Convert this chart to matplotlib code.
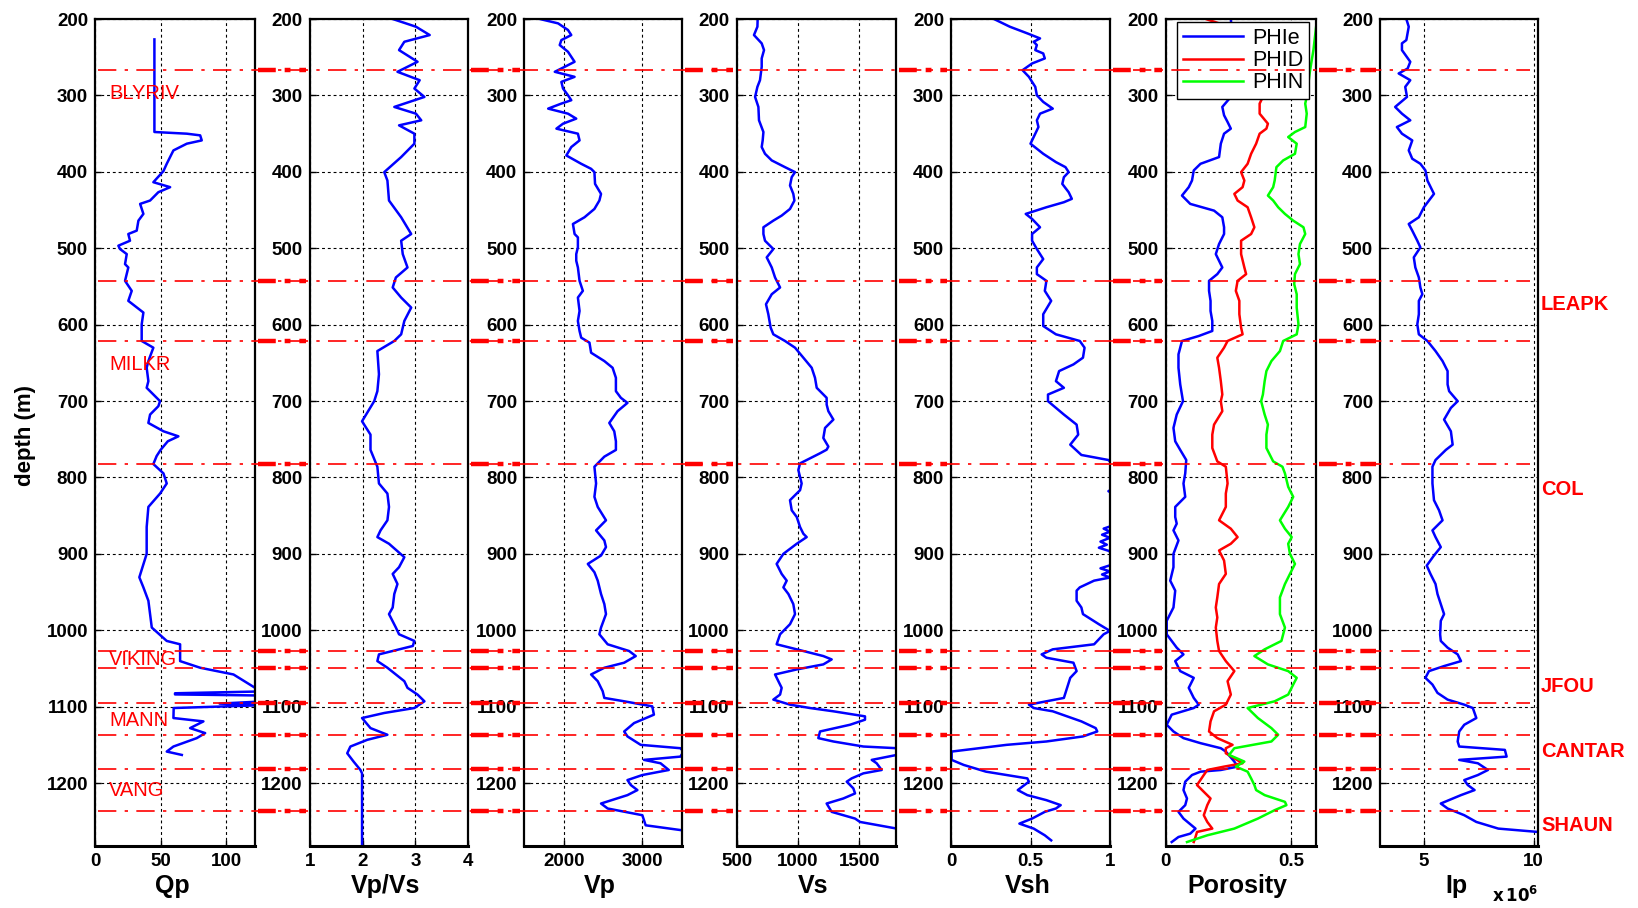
import numpy as np
import matplotlib
matplotlib.use("Agg")
import matplotlib.pyplot as plt
from matplotlib.lines import Line2D
from matplotlib.transforms import blended_transform_factory

# ---------------------------------------------------------------- well data
DEPTH_LIMITS = (200, 1282)
DEPTH_TICKS = list(range(200, 1201, 100))

# (depth m, value) samples for each log
QP = [(226.7, 45.3), (347.9, 45.3), (350.1, 70.0), (352.3, 80.2), (358.9, 81.4), (363.2, 70.0),
      (372.0, 59.8), (376.4, 58.5), (389.5, 54.7), (399.0, 52.2), (413.6, 44.5), (420.1, 57.3),
      (426.7, 48.3), (437.6, 42.0), (442.0, 34.4), (455.1, 36.9), (463.9, 33.1), (477.0, 31.8),
      (481.4, 25.4), (490.2, 26.7), (496.7, 17.8), (501.1, 19.1), (507.7, 24.2), (520.8, 22.9),
      (525.2, 25.4), (542.7, 22.9), (555.8, 28.0), (568.9, 25.4), (584.2, 36.9), (599.6, 35.6),
      (621.4, 35.6), (630.2, 44.5), (647.7, 40.7), (656.5, 39.4), (674.0, 40.7), (682.7, 39.4),
      (700.2, 49.6), (706.8, 48.3), (717.7, 42.0), (728.7, 40.7), (739.6, 52.2), (746.2, 63.6),
      (752.7, 55.5), (764.0, 50.0), (772.0, 47.0), (782.5, 44.5), (794.7, 52.2), (807.9, 54.7),
      (821.1, 49.6), (838.6, 40.7), (864.9, 39.4), (900.0, 39.4), (930.7, 33.8), (943.9, 36.9),
      (961.4, 40.7), (996.5, 43.3), (1014.0, 54.7), (1018.4, 64.9), (1040.4, 64.9), (1049.1, 80.2),
      (1057.9, 105.6), (1075.4, 122.1), (1080.0, 130.0), (1082.5, 61.0), (1084.0, 61.0),
      (1085.5, 130.0), (1093.0, 130.0), (1096.0, 95.0), (1098.0, 130.0), (1101.8, 60.0),
      (1114.9, 59.8), (1119.3, 82.7), (1128.1, 72.5), (1134.6, 84.0), (1141.2, 77.6),
      (1152.2, 59.8), (1158.8, 54.7), (1163.2, 66.2)]

VPVS = [(200, 2.57), (210.1, 3.01), (221, 3.27), (229.8, 2.79), (240.7, 2.69), (256, 3.04),
        (269.1, 2.66), (280.1, 3.08), (291, 2.98), (302, 3.17), (315.1, 2.60), (323.9, 3.01),
        (332.6, 3.11), (339.2, 2.69), (350.1, 2.98), (363.2, 2.98), (380.7, 2.73), (400.4, 2.41),
        (411.4, 2.47), (437.6, 2.50), (459.5, 2.73), (481.4, 2.92), (490.2, 2.73), (507.7, 2.76),
        (525.2, 2.85), (538.3, 2.63), (551.4, 2.57), (564.6, 2.73), (577.7, 2.92), (595.2, 2.79),
        (612.7, 2.73), (621.4, 2.60), (634.6, 2.28), (665, 2.31), (687.1, 2.28), (700.2, 2.22),
        (726.5, 1.99), (744, 2.15), (764, 2.15), (786, 2.28), (807.9, 2.31), (821.1, 2.47),
        (838.6, 2.50), (856.1, 2.47), (869.3, 2.34), (878.1, 2.28), (886.8, 2.50), (904.4, 2.79),
        (917.5, 2.69), (926.3, 2.57), (939.5, 2.66), (952.6, 2.60), (970.2, 2.57), (978.9, 2.50),
        (996.5, 2.63), (1005.3, 2.69), (1014, 2.98), (1020.6, 2.95), (1031.6, 2.31), (1040.4, 2.28),
        (1049.1, 2.47), (1066.7, 2.79), (1075.4, 2.85), (1084.2, 3.04), (1093, 3.17), (1101.8, 2.98),
        (1108.3, 2.41), (1114.9, 1.99), (1128.1, 2.15), (1136.8, 2.47), (1143.4, 2.09),
        (1152.2, 1.77), (1161, 1.71), (1171.9, 1.83), (1182.9, 1.96), (1187.3, 1.99), (1279.4, 1.99)]

VP = [(200, 1697), (205.7, 1929), (214.4, 2055), (221, 2097), (227.6, 1971), (234.1, 1950),
      (242.9, 2055), (256, 2139), (262.6, 2013), (269.1, 1887), (275.7, 2139), (282.3, 1971),
      (291, 1992), (299.8, 2055), (306.3, 2097), (310.7, 1971), (317.3, 1803), (323.9, 2055),
      (330.4, 2160), (337, 1992), (343.5, 1908), (350.1, 2181), (358.9, 2202), (367.6, 2097),
      (378.6, 2034), (389.5, 2223), (396.1, 2349), (400.4, 2391), (415.8, 2399), (428.9, 2475),
      (437.6, 2454), (448.6, 2391), (459.5, 2265), (468.3, 2118), (481.4, 2139), (485.8, 2181),
      (498.9, 2181), (507.7, 2160), (516.4, 2160), (525.2, 2181), (542.7, 2202), (555.8, 2244),
      (564.6, 2181), (582.1, 2202), (595.2, 2181), (608.3, 2202), (617.1, 2223), (623.6, 2328),
      (636.8, 2349), (647.7, 2517), (656.5, 2622), (669.6, 2664), (687.1, 2664), (695.8, 2727),
      (702.4, 2811), (713.3, 2685), (728.7, 2580), (739.6, 2643), (752.7, 2664), (764, 2664),
      (772.8, 2517), (786, 2391), (807.9, 2412), (825.4, 2391), (838.6, 2433), (856.1, 2538),
      (869.3, 2412), (882.5, 2517), (891.2, 2538), (902.2, 2475), (913.2, 2307), (924.1, 2391),
      (935.1, 2433), (952.6, 2475), (965.8, 2517), (978.9, 2538), (996.5, 2475), (1005.3, 2454),
      (1018.4, 2559), (1027.2, 2832), (1033.8, 2916), (1042.5, 2769), (1049.1, 2517),
      (1057.9, 2349), (1066.7, 2433), (1079.8, 2496), (1088.6, 2517), (1093, 2769), (1099.6, 3126),
      (1110.5, 3147), (1121.5, 2895), (1132.5, 2769), (1139, 2811), (1150, 2979), (1154.4, 3483),
      (1158.8, 3525), (1165.4, 3483), (1169.7, 3021), (1174.1, 3231), (1182.9, 3336),
      (1189.5, 3000), (1196.1, 2811), (1202.6, 2853), (1209.2, 2937), (1215.8, 2811),
      (1226.8, 2475), (1233.3, 2559), (1242.1, 3000), (1255.3, 3042), (1261.8, 3504)]

VS = [(200, 671), (210.1, 669), (221, 641), (231.9, 704), (240.7, 723), (251.6, 704), (262.6, 704),
      (280.1, 690), (288.8, 669), (302, 650), (315.1, 677), (332.6, 682), (347.9, 718), (358.9, 712),
      (367.6, 704), (376.4, 731), (385.1, 786), (393.9, 894), (400.4, 976), (407, 949), (417.9, 935),
      (428.9, 962), (437.6, 971), (448.6, 935), (457.3, 867), (463.9, 799), (472.6, 718),
      (481.4, 718), (490.2, 731), (501.1, 799), (512, 745), (525.2, 786), (538.3, 813), (551.4, 854),
      (560.2, 786), (573.3, 739), (586.4, 758), (603.9, 777), (612.7, 799), (621.4, 894),
      (630.2, 976), (643.3, 1044), (656.5, 1112), (669.6, 1139), (682.7, 1153), (695.8, 1234),
      (704.6, 1234), (713.3, 1248), (724.3, 1289), (735.2, 1221), (748.4, 1207), (759.6, 1248),
      (763.7, 1234), (768.4, 1180), (781.6, 1017), (790.4, 1003), (807.9, 1030), (816.7, 1017),
      (829.8, 935), (843, 949), (851.8, 990), (864.9, 1017), (873.7, 1044), (878.1, 1071),
      (886.8, 990), (900, 881), (913.2, 826), (926.3, 867), (935.1, 908), (943.9, 881), (952.6, 922),
      (965.8, 962), (978.9, 976), (992.1, 935), (1005.3, 854), (1018.4, 826), (1025, 990),
      (1033.8, 1207), (1038.2, 1275), (1044.7, 1207), (1051.3, 990), (1057.9, 813), (1066.7, 840),
      (1075.4, 867), (1084.2, 854), (1090.8, 799), (1097.4, 935), (1101.8, 1098), (1106.1, 1289),
      (1112.7, 1547), (1117.1, 1547), (1123.7, 1425), (1132.5, 1180), (1141.2, 1166),
      (1145.6, 1289), (1152.2, 1534), (1154.4, 1806), (1163.2, 1806), (1169.7, 1602),
      (1174.1, 1642), (1182.9, 1683), (1187.3, 1534), (1193.9, 1438), (1198.2, 1398),
      (1207, 1452), (1213.6, 1466), (1220.2, 1370), (1226.8, 1234), (1237.7, 1275),
      (1246.5, 1466), (1250.9, 1506), (1259.6, 1806)]

VSH = [(200, 0.27), (210.1, 0.37), (218.8, 0.48), (225.4, 0.56), (229.8, 0.52), (234.1, 0.54),
       (240.7, 0.53), (245.1, 0.58), (251.6, 0.59), (258.2, 0.51), (267, 0.45), (275.7, 0.49),
       (288.8, 0.53), (299.8, 0.54), (308.5, 0.58), (317.3, 0.64), (323.9, 0.56), (332.6, 0.54),
       (341.4, 0.55), (350.1, 0.53), (363.2, 0.50), (376.4, 0.58), (387.3, 0.66), (393.9, 0.72),
       (400.4, 0.74), (407, 0.71), (415.8, 0.70), (426.7, 0.74), (435.4, 0.76), (439.8, 0.71),
       (446.4, 0.60), (455.1, 0.47), (461.7, 0.51), (472.6, 0.56), (481.4, 0.51), (490.2, 0.51),
       (501.1, 0.54), (514.2, 0.58), (525.2, 0.54), (533.9, 0.54), (542.7, 0.60), (555.8, 0.59),
       (568.9, 0.63), (586.4, 0.58), (601.8, 0.58), (612.7, 0.66), (621.4, 0.81), (630.2, 0.84),
       (643.3, 0.83), (652.1, 0.77), (660.8, 0.68), (674, 0.66), (682.7, 0.71), (691.5, 0.61),
       (700.2, 0.61), (717.7, 0.71), (730.9, 0.79), (744, 0.80), (757.1, 0.75), (770.6, 0.82),
       (777.2, 0.99), (781.6, 1.01), (790, 1.08), (805, 1.12), (812, 1.04), (818, 0.99),
       (824, 1.04), (845, 1.12), (862, 1.03), (867, 0.96), (871, 1.0), (875, 0.95), (879, 1.0),
       (884, 0.94), (888, 0.98), (892, 0.93), (896, 0.99), (905, 1.06), (915, 1.0), (919, 0.94),
       (923, 1.0), (927, 0.95), (931, 1.0), (935.1, 0.90), (943.9, 0.81), (948.2, 0.79),
       (961.4, 0.79), (970.2, 0.82), (978.9, 0.83), (992.1, 0.93), (1000.9, 1.0), (1005.3, 0.96),
       (1018.4, 0.90), (1025, 0.64), (1031.6, 0.57), (1036, 0.60), (1042.5, 0.77), (1053.5, 0.79),
       (1062.3, 0.75), (1075.4, 0.73), (1088.6, 0.71), (1093, 0.60), (1097.4, 0.49),
       (1101.8, 0.52), (1106.1, 0.64), (1119.3, 0.82), (1128.1, 0.91), (1132.5, 0.92),
       (1139, 0.83), (1145.6, 0.60), (1150, 0.35), (1158.8, 0.004), (1169.7, 0.004),
       (1176.3, 0.08), (1185.1, 0.22), (1189.5, 0.35), (1193.9, 0.48), (1198.2, 0.49),
       (1209.2, 0.42), (1215.8, 0.48), (1222.4, 0.60), (1228.9, 0.69), (1233.3, 0.66),
       (1237.7, 0.59), (1246.5, 0.51), (1253.1, 0.43), (1259.6, 0.52), (1268.4, 0.59),
       (1275, 0.63)]

PHIE = [(200, 0.26), (240, 0.27), (270, 0.25), (302, 0.26), (315.1, 0.226), (326, 0.233),
        (334.8, 0.247), (343.5, 0.26), (350.1, 0.233), (363.2, 0.22), (380.7, 0.213), (389.5, 0.139),
        (398.2, 0.112), (411.4, 0.105), (420.1, 0.092), (431.1, 0.065), (442, 0.098), (450.8, 0.193),
        (459.5, 0.226), (472.6, 0.233), (481.4, 0.233), (494.5, 0.213), (507.7, 0.20),
        (525.2, 0.226), (533.9, 0.206), (542.7, 0.173), (555.8, 0.173), (568.9, 0.179),
        (582.1, 0.179), (595.2, 0.186), (608.3, 0.186), (614.9, 0.132), (621.4, 0.065),
        (638.9, 0.051), (656.5, 0.051), (678.3, 0.058), (700.2, 0.069), (717.7, 0.044),
        (735.2, 0.031), (752.7, 0.038), (764, 0.058), (777.2, 0.082), (794.7, 0.078),
        (807.9, 0.071), (825.4, 0.078), (838.6, 0.038), (851.8, 0.038), (860.5, 0.044),
        (869.3, 0.031), (882.5, 0.051), (900, 0.031), (917.5, 0.031), (935.1, 0.018),
        (948.2, 0.038), (970.2, 0.031), (987.7, 0.004), (1005.3, 0.004), (1022.8, 0.044),
        (1031.6, 0.071), (1040.4, 0.038), (1053.5, 0.058), (1062.3, 0.112), (1075.4, 0.092),
        (1088.6, 0.112), (1097.4, 0.132), (1101.8, 0.112), (1110.5, 0.024), (1123.7, 0.004),
        (1132.5, 0.031), (1141.2, 0.071), (1147.8, 0.139), (1154.4, 0.22), (1158.8, 0.24),
        (1171.9, 0.274), (1178.5, 0.287), (1182.9, 0.22), (1185.1, 0.139), (1189.5, 0.105),
        (1198.2, 0.078), (1209.2, 0.071), (1220.2, 0.085), (1228.9, 0.078), (1237.7, 0.051),
        (1246.5, 0.071), (1259.6, 0.119), (1266.2, 0.098), (1270.6, 0.051), (1277.2, 0.024)]

PHID = [(200, 0.16), (215, 0.30), (240, 0.38), (270, 0.40), (302, 0.388), (310.7, 0.375),
        (323.9, 0.375), (337, 0.408), (343.5, 0.402), (350.1, 0.375), (363.2, 0.361), (376.4, 0.341),
        (389.5, 0.327), (400.4, 0.301), (411.4, 0.314), (420.1, 0.307), (428.9, 0.274),
        (437.6, 0.287), (446.4, 0.327), (459.5, 0.341), (472.6, 0.354), (481.4, 0.341),
        (490.2, 0.301), (507.7, 0.301), (525.2, 0.314), (533.9, 0.321), (542.7, 0.287),
        (555.8, 0.28), (568.9, 0.294), (586.4, 0.294), (603.9, 0.301), (612.7, 0.307),
        (621.4, 0.247), (630.2, 0.233), (643.3, 0.206), (656.5, 0.213), (674, 0.22),
        (691.5, 0.226), (700.2, 0.22), (713.3, 0.226), (730.9, 0.193), (744, 0.186),
        (761.5, 0.186), (779, 0.206), (786, 0.24), (807.9, 0.247), (821.1, 0.24), (838.6, 0.24),
        (856.1, 0.213), (867.1, 0.26), (878.1, 0.287), (886.8, 0.26), (895.6, 0.213),
        (908.8, 0.233), (926.3, 0.24), (939.5, 0.213), (957, 0.206), (970.2, 0.20),
        (983.3, 0.206), (996.5, 0.20), (1014, 0.206), (1027.2, 0.213), (1040.4, 0.24),
        (1053.5, 0.274), (1066.7, 0.247), (1084.2, 0.26), (1097.4, 0.24), (1106.1, 0.193),
        (1119.3, 0.179), (1132.5, 0.173), (1141.2, 0.206), (1150, 0.267), (1154.4, 0.24),
        (1161, 0.24), (1167.6, 0.274), (1174.1, 0.307), (1178.5, 0.233), (1182.9, 0.166),
        (1189.5, 0.152), (1202.6, 0.125), (1211.4, 0.152), (1220.2, 0.179), (1228.9, 0.166),
        (1242.1, 0.152), (1250.9, 0.166), (1259.6, 0.186), (1264, 0.125), (1270.6, 0.119),
        (1277.2, 0.112)]

PHIN = [(200, 0.604), (240, 0.59), (270, 0.575), (302, 0.563), (310.7, 0.557), (323.9, 0.563),
        (341.4, 0.557), (347.9, 0.516), (354.5, 0.489), (363.2, 0.523), (376.4, 0.516),
        (385.1, 0.469), (393.9, 0.442), (411.4, 0.435), (420.1, 0.429), (431.1, 0.408),
        (437.6, 0.429), (446.4, 0.449), (455.1, 0.476), (463.9, 0.509), (472.6, 0.55),
        (481.4, 0.557), (494.5, 0.536), (507.7, 0.53), (520.8, 0.536), (533.9, 0.516),
        (547, 0.513), (560.2, 0.523), (577.7, 0.523), (599.6, 0.53), (612.7, 0.523),
        (621.4, 0.469), (634.6, 0.456), (647.7, 0.422), (660.8, 0.402), (674, 0.395),
        (691.5, 0.388), (700.2, 0.381), (717.7, 0.395), (730.9, 0.408), (744, 0.402),
        (761.5, 0.402), (779, 0.429), (786, 0.466), (794.7, 0.476), (812.3, 0.489), (825.4, 0.509),
        (838.6, 0.489), (856.1, 0.456), (867.1, 0.476), (878.1, 0.503), (886.8, 0.489),
        (900, 0.496), (913.2, 0.516), (926.3, 0.496), (939.5, 0.476), (957, 0.456),
        (978.9, 0.456), (996.5, 0.476), (1014, 0.462), (1025, 0.395), (1033.8, 0.354),
        (1044.7, 0.408), (1053.5, 0.489), (1062.3, 0.523), (1071.1, 0.509), (1084.2, 0.489),
        (1093, 0.435), (1101.8, 0.327), (1114.9, 0.368), (1128.1, 0.422), (1136.8, 0.449),
        (1145.6, 0.422), (1154.4, 0.274), (1163.2, 0.253), (1171.9, 0.314), (1178.5, 0.28),
        (1185.1, 0.327), (1193.9, 0.341), (1202.6, 0.354), (1209.2, 0.361), (1215.8, 0.395),
        (1224.6, 0.476), (1228.9, 0.482), (1235.5, 0.435), (1246.5, 0.368), (1259.6, 0.274),
        (1268.4, 0.166), (1277.2, 0.085)]

# acoustic impedance, in units of 10^6
IP = [(200, 4.20), (210.1, 4.31), (227.6, 4.20), (231.9, 4.00), (240.7, 4.00), (256, 4.38),
      (264.8, 4.26), (271.3, 3.85), (280.1, 4.38), (288.8, 4.15), (302, 4.23), (315.1, 3.69),
      (323.9, 4.00), (332.6, 4.38), (341.4, 3.77), (350.1, 4.00), (358.9, 4.47), (372, 4.31),
      (382.9, 4.47), (389.5, 4.84), (398.2, 5.07), (411.4, 5.16), (428.9, 5.46), (437.6, 5.23),
      (446.4, 5.00), (459.5, 4.77), (468.3, 4.31), (477, 4.47), (490.2, 4.70), (498.9, 4.84),
      (512, 4.54), (525.2, 4.61), (538.3, 4.77), (551.4, 4.84), (560.2, 4.93), (568.9, 4.77),
      (586.4, 4.77), (599.6, 4.70), (612.7, 4.77), (621.4, 5.16), (634.6, 5.53), (647.7, 5.85),
      (660.8, 6.08), (678.3, 6.08), (687.1, 6.15), (700.2, 6.54), (709, 6.23), (724.3, 5.92),
      (739.6, 6.23), (757.1, 6.31), (764, 6.00), (777.2, 5.53), (786, 5.39), (807.9, 5.39),
      (829.8, 5.46), (843, 5.69), (856.1, 5.85), (869.3, 5.39), (878.1, 5.53), (891.2, 5.77),
      (902.2, 5.46), (915.4, 5.13), (926.3, 5.30), (939.5, 5.53), (952.6, 5.62), (965.8, 5.77),
      (978.9, 5.92), (987.7, 5.77), (1005.3, 5.74), (1014, 5.77), (1022.8, 6.08), (1031.6, 6.54),
      (1040.4, 6.69), (1046.9, 5.92), (1053.5, 5.23), (1062.3, 5.07), (1071.1, 5.39),
      (1082, 5.62), (1090.8, 6.08), (1097.4, 6.84), (1101.8, 7.23), (1114.9, 7.39),
      (1123.7, 6.84), (1132.5, 6.61), (1145.6, 6.54), (1152.2, 6.61), (1156.6, 8.69),
      (1165.4, 8.77), (1169.7, 6.61), (1174.1, 7.46), (1182.9, 7.92), (1189.5, 7.46),
      (1196.1, 6.84), (1202.6, 7.00), (1209.2, 7.31), (1215.8, 6.69), (1226.8, 5.77),
      (1233.3, 6.08), (1242.1, 6.84), (1250.9, 7.39), (1259.6, 8.39), (1264, 10.2)]

FORMATIONS = ['BLYRIV', 'LEAPK', 'MILKR', 'COL', 'VIKING', 'JFOU', 'MANN', 'CANTAR', 'VANG', 'SHAUN']
FORMATION_TOPS = [267, 543.5, 622, 783, 1027.5, 1050, 1095, 1137, 1181, 1236.5]
FORMATION_LABEL_DEPTHS = [297, 574, 652, 816, 1038, 1073, 1118, 1159, 1210, 1256]

# track title, x range, x ticks, x tick labels
TRACKS = [
    ('Qp', (0, 122), [0, 50, 100], ['0', '50', '100']),
    ('Vp/Vs', (1, 4), [1, 2, 3, 4], ['1', '2', '3', '4']),
    ('Vp', (1500, 3500), [2000, 3000], ['2000', '3000']),
    ('Vs', (500, 1800), [500, 1000, 1500], ['500', '1000', '1500']),
    ('Vsh', (0, 1), [0, 0.5, 1], ['0', '0.5', '1']),
    ('Porosity', (0, 0.6), [0, 0.5], ['0', '0.5']),
    ('Ip', (3, 10.2), [5, 10], ['5', '10']),
]

# ---------------------------------------------------------------- figure
plt.rcParams['font.family'] = ['Liberation Sans', 'DejaVu Sans']
plt.rcParams['font.weight'] = 'bold'

W, H = 1638.0, 908.0
fig = plt.figure(figsize=(W / 100, H / 100), dpi=100)

lefts = [95, 309.7, 524.3, 736.7, 951, 1165.7, 1380]
widths = [160, 158.6, 157.4, 159.3, 159, 150.3, 158]
top_px, bot_px = 19.0, 845.7

axes = []
for i, (title, xlim, xt, xtl) in enumerate(TRACKS):
    ax = fig.add_axes([lefts[i] / W, 1 - bot_px / H, widths[i] / W, (bot_px - top_px) / H])
    ax.set_xlim(*xlim)
    ax.set_ylim(DEPTH_LIMITS[1], DEPTH_LIMITS[0])
    ax.set_xticks(xt)
    ax.set_xticklabels(xtl)
    ax.set_yticks(DEPTH_TICKS)
    ax.set_yticklabels([str(d) for d in DEPTH_TICKS])
    ax.grid(True, color='k', linestyle=(0, (2.6, 2.6)), linewidth=0.8)
    ax.tick_params(direction='in', length=4, width=1, labelsize=13.5, pad=5)
    for sp in ax.spines.values():
        sp.set_linewidth(1.6)
    ax.spines['bottom'].set_linewidth(2.2)
    fig.text((lefts[i] + widths[i] / 2 - 3) / W, 1 - 886 / H, title,
             ha='center', va='center', fontsize=18, fontweight='bold')
    axes.append(ax)


def draw(ax, samples, color):
    d, v = np.array(samples, dtype=float).T
    return ax.plot(v, d, color=color, linewidth=1.8, solid_joinstyle='round')[0]


draw(axes[0], QP, 'b')
draw(axes[1], VPVS, 'b')
draw(axes[2], VP, 'b')
draw(axes[3], VS, 'b')
draw(axes[4], VSH, 'b')
h_e = draw(axes[5], PHIE, 'b')
h_d = draw(axes[5], PHID, 'r')
h_n = draw(axes[5], PHIN, (0, 1, 0))
draw(axes[6], IP, 'b')

leg = axes[5].legend([h_e, h_d, h_n], ['PHIe', 'PHID', 'PHIN'], loc='upper right',
                     bbox_to_anchor=(1 - 6.7 / widths[5], 1 - 3 / (bot_px - top_px)),
                     borderaxespad=0, prop={'size': 15.5, 'weight': 'normal'},
                     frameon=True, fancybox=False, framealpha=1, edgecolor='k',
                     handlelength=2.8, handletextpad=0.4, labelspacing=0.05, borderpad=0.28)
leg.get_frame().set_linewidth(1.0)
leg.set_zorder(10)

fig.text(26 / W, 1 - 436 / H, 'depth (m)', rotation=90, ha='center', va='center',
         fontsize=16, fontweight='bold')
fig.text(1515 / W, 1 - 895 / H, r'$\mathbf{x\,10^{6}}$', ha='center', va='center', fontsize=12)

# formation tops: thin dash-dot across the tracks, heavy in the gutters
trans = blended_transform_factory(fig.transFigure, axes[0].transData)
for top in FORMATION_TOPS:
    fig.add_artist(Line2D([98 / W, 1530 / W], [top, top], transform=trans, color='r',
                          linewidth=1.2, dashes=(11, 5, 2, 5), zorder=5))
    for i in range(len(TRACKS) - 1):
        x0 = (lefts[i] + widths[i] + 3) / W
        x1 = (lefts[i + 1] - 4) / W
        fig.add_artist(Line2D([x0, x1], [top, top], transform=trans, color='r',
                              linewidth=3.2, dashes=(4, 2, 1.3, 2), zorder=5))

for k, (name, dl) in enumerate(zip(FORMATIONS, FORMATION_LABEL_DEPTHS)):
    if k % 2 == 0:
        fig.text(109 / W, dl, name, transform=trans, color='r', fontsize=14.5,
                 fontweight='normal', ha='left', va='center', zorder=6)
    else:
        fig.text(1541 / W, dl, name, transform=trans, color='r', fontsize=14.5,
                 fontweight='bold', ha='left', va='center', zorder=6)

fig.savefig('out.png', dpi=100, facecolor='white')
